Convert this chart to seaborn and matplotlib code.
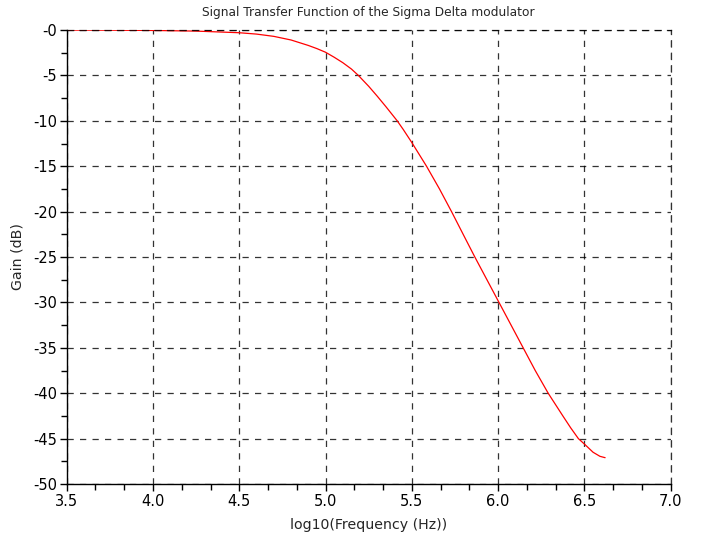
import numpy as np
import pandas as pd
import matplotlib
matplotlib.use("Agg")
import matplotlib.pyplot as plt
import seaborn as sns
from matplotlib.ticker import MultipleLocator

# Values
log_freq = [3.50, 3.75, 4.00, 4.25, 4.50, 4.60, 4.70, 4.80, 4.90, 4.95, 5.00,
            5.05, 5.10, 5.15, 5.19, 5.25, 5.30, 5.35, 5.415, 5.45, 5.50, 5.585,
            5.66, 5.73, 5.80, 5.865, 5.935, 6.005, 6.075, 6.145, 6.215, 6.29,
            6.375, 6.42, 6.465, 6.50, 6.55, 6.59, 6.62]
gain_db = [-0.01, -0.02, -0.05, -0.12, -0.30, -0.45, -0.70, -1.10, -1.70, -2.05, -2.45,
           -3.00, -3.60, -4.30, -5.00, -6.20, -7.30, -8.45, -10.0, -10.95, -12.4, -15.0,
           -17.5, -20.0, -22.6, -25.0, -27.5, -30.0, -32.5, -35.0, -37.5, -40.0,
           -42.5, -43.8, -45.0, -45.6, -46.5, -46.95, -47.1]

x_ticks = [3.5, 4.0, 4.5, 5.0, 5.5, 6.0, 6.5, 7.0]
y_ticks = [0, -5, -10, -15, -20, -25, -30, -35, -40, -45, -50]
y_tick_labels = ["-0", "-5", "-10", "-15", "-20", "-25", "-30", "-35", "-40", "-45", "-50"]


def main():
    sns.set_style("ticks")
    plt.rcParams['font.family'] = ['DejaVu Sans']

    data = pd.DataFrame({'logf': log_freq, 'gain': gain_db})

    fig = plt.figure(figsize=(7.06, 5.33), dpi=100)
    ax = fig.add_axes([0.0945, 0.0919, 0.8555, 0.8518])

    sns.lineplot(data=data, x='logf', y='gain', color='red', linewidth=0.9,
                 ax=ax, sort=False)

    ax.set_xlim(3.5, 7.0)
    ax.set_ylim(-50, 0)
    ax.set_xticks(x_ticks)
    ax.set_xticklabels([f"{v:.1f}" for v in x_ticks])
    ax.set_yticks(y_ticks)
    ax.set_yticklabels(y_tick_labels)
    ax.xaxis.set_minor_locator(MultipleLocator(0.5 / 3))
    ax.yaxis.set_minor_locator(MultipleLocator(2.5))

    ax.grid(True, which='major', color='black', linestyle=(0, (5, 5)),
            linewidth=0.9, alpha=0.8)
    # the top and right edges look like grid lines in the reference
    for side in ['top', 'right']:
        ax.spines[side].set_linestyle((0, (5, 5)))
        ax.spines[side].set_linewidth(0.9)
        ax.spines[side].set_color('black')
        ax.spines[side].set_alpha(0.8)
    for side in ['left', 'bottom']:
        ax.spines[side].set_linewidth(1.0)
        ax.spines[side].set_color('black')

    ax.tick_params(which='major', direction='out', length=5, width=1,
                   labelsize=10.5, colors='black', pad=2)
    ax.tick_params(which='minor', direction='out', length=4, width=1,
                   colors='black')

    ax.set_title('Signal Transfer Function of the Sigma Delta modulator',
                 fontsize=8.8, pad=10)
    ax.set_xlabel('log10(Frequency (Hz))', fontsize=10.2, labelpad=7)
    ax.set_ylabel('Gain (dB)', fontsize=10.2, labelpad=6)

    fig.savefig('out.png', dpi=100)


if __name__ == "__main__":
    main()
